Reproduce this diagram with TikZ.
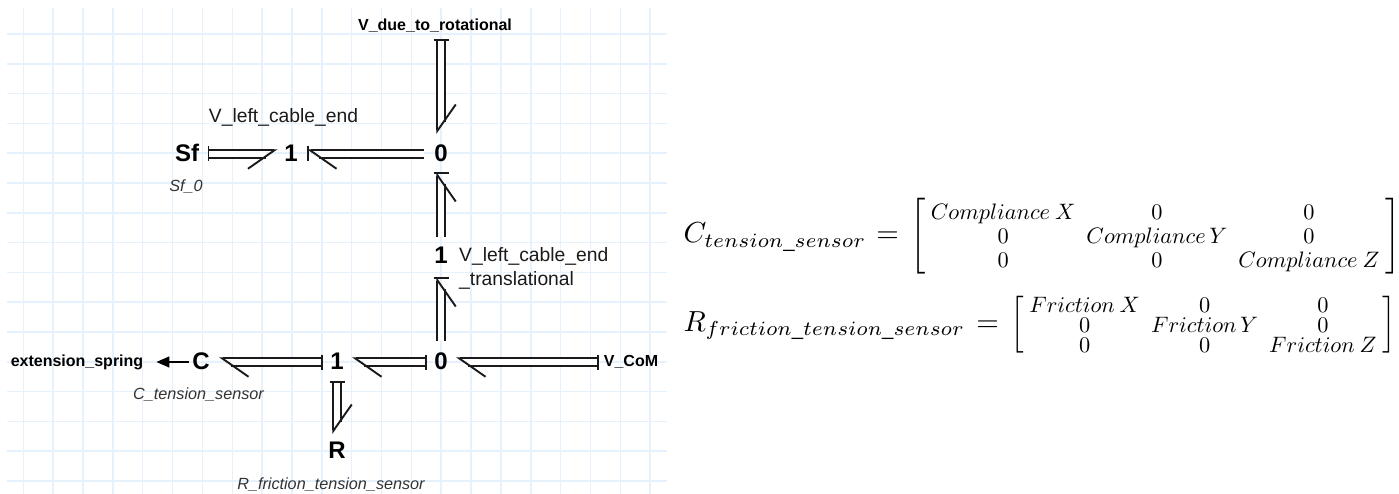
\documentclass[tikz,border=0pt]{standalone}
\usepackage{fontspec}
\usepackage{array}
\usepackage{amsmath}
\usepackage{graphicx}
\setmainfont{Liberation Sans}
\usetikzlibrary{arrows.meta}
\definecolor{gridblue}{HTML}{E6F1FE}
\definecolor{bondink}{HTML}{1A1A1A}
\definecolor{notegray}{HTML}{333333}
\tikzset{
  elem/.style  = {inner sep=0pt, font=\fontsize{24}{24}\selectfont\bfseries, text height=17pt, text depth=2pt},
  port/.style  = {inner sep=0pt, font=\fontsize{16}{16}\selectfont\bfseries},
  lab/.style   = {inner sep=0pt, font=\fontsize{19.3}{19.3}\selectfont, text=bondink},
  note/.style  = {inner sep=0pt, font=\fontsize{16.2}{16.2}\selectfont\itshape, text=notegray},
  eqn/.style   = {inner sep=0pt, anchor=west, scale=2.9},
  gridline/.style = {draw=gridblue, line width=1.5pt},
  pair/.style  = {draw=bondink, line width=1.6pt, double=white, double distance=5.9pt},
  rail/.style  = {draw=bondink, line width=1.6pt},
  tick/.style  = {draw=bondink, line width=1.7pt},
  barbl/.style = {-{Straight Barb[length=26.5pt, width=37pt, harpoon, line width=1.9pt]}},
  barbr/.style = {-{Straight Barb[length=26.5pt, width=37pt, harpoon, swap, line width=1.9pt]}},
  signal/.style = {-{Triangle[length=13pt, width=11pt]}, draw=black, line width=1.5pt},
}
% tail, head, gap at tail, gap at head, barb side
\newcommand{\bondh}[5]{
  \draw[pair, shorten <=#3pt, shorten >=#4pt+11.8pt] (#1.center) -- (#2.center);
  \draw[rail, #5, shorten <=#3pt, shorten >=#4pt] ([yshift=3.75pt]#1.center) -- ([yshift=3.75pt]#2.center);}
\newcommand{\bondv}[5]{
  \draw[pair, shorten <=#3pt, shorten >=#4pt+11.8pt] (#1.center) -- (#2.center);
  \draw[rail, #5, shorten <=#3pt, shorten >=#4pt] ([xshift=-3.75pt]#1.center) -- ([xshift=-3.75pt]#2.center);}
\newcommand{\tickh}[2]{\draw[tick] ([shift={(#2,-7.5)}]#1.center) -- ([shift={(#2,7.5)}]#1.center);}
\newcommand{\tickv}[2]{\draw[tick] ([shift={(-7.5,#2)}]#1.center) -- ([shift={(7.5,#2)}]#1.center);}
\newcommand{\ent}[1]{\smash{\scalebox{0.77}{$#1$}}}
\newcommand{\tallb}[1]{\vcenter{\hbox{\scalebox{1}[1.09]{$#1$}}}}

\begin{document}
\begin{tikzpicture}[x=1pt,y=-1pt]
\useasboundingbox (0,0) rectangle (1399,494);

% ------------------------------------------------------------------ paper
\foreach \k in {0,...,21}{\draw[gridline] (23.3+29.85*\k,8) -- (23.3+29.85*\k,494);}
\foreach \k in {0,...,15}{\draw[gridline] (7,34+29.8*\k) -- (667,34+29.8*\k);}

% ------------------------------------------------------------------ elements
\node[elem] (sf)   at (187,154) {Sf};
\node[elem] (jt)   at (291,154) {1};
\node[elem] (ztop) at (441,154) {0};
\node[elem] (jm)   at (441,256) {1};
\node[elem] (zlow) at (441,362) {0};
\node[elem] (jl)   at (337,362) {1};
\node[elem] (cap)  at (201,362) {C};
\node[elem] (res)  at (337,451) {R};

\node[port] (vrot)   at (435,26)  {V\_due\_to\_rotational};
\node[port] (vcom)   at (631,362) {V\_CoM};
\node[port] (spring) at (77,362)  {extension\_spring};
\coordinate (vrotp) at (vrot.center -| ztop.center);

\node[lab] (vleft) at (283.5,117) {V\_left\_cable\_end};
\node[lab, anchor=west] (vmid) at (459,256) {V\_left\_cable\_end};
\node[lab, anchor=west] (vtrans) at (459,280) {\_translational};

\node[note] (sfname) at (186,187) {Sf\_0};
\node[note] (cname)  at (198.5,395) {C\_tension\_sensor};
\node[note] (rname)  at (331,485) {R\_friction\_tension\_sensor};

% ------------------------------------------------------------------ bonds
\bondv{vrotp}{ztop}{14}{20}{barbl}   \tickv{vrotp}{14}
\bondh{ztop}{jt}{17}{16}{barbl}      \tickh{jt}{17}
\bondh{sf}{jt}{21.5}{13.5}{barbr}    \tickh{sf}{21.5}
\bondv{jm}{ztop}{19}{18}{barbr}      \tickv{ztop}{19}
\bondv{zlow}{jm}{21}{21}{barbr}      \tickv{jm}{22}
\bondh{zlow}{jl}{15}{15}{barbl}      \tickh{zlow}{-15}
\bondh{vcom}{zlow}{33}{15}{barbl}    \tickh{vcom}{-33}
\bondh{jl}{cap}{15}{18}{barbl}       \tickh{jl}{-15}
\bondv{jl}{res}{20}{17}{barbl}       \tickv{jl}{20}
\draw[signal, shorten <=3pt, shorten >=13pt] (cap) -- (spring);

% ------------------------------------------------------------------ matrices
\node[eqn] (ceq) at (683,236) {\renewcommand{\arraystretch}{0.683}\setlength{\arraycolsep}{1.9pt}%
  $C_{tension\_sensor} \mskip1.3mu = \mskip2mu \tallb{\bigg[}\raisebox{-1pt}{$\begin{array}{ccc}
    \ent{Compliance\:X} & \ent{0} & \ent{0}\\ \ent{0} & \ent{Compliance\,Y} & \ent{0}\\ \ent{0} & \ent{0} & \ent{Compliance\:Z}
  \end{array}$}\tallb{\bigg]}$};
\node[eqn] (req) at (683,327) {\renewcommand{\arraystretch}{0.566}\setlength{\arraycolsep}{1.9pt}%
  $R_{friction\_tension\_sensor} \mskip2mu = \mskip2mu \tallb{\Big[}\raisebox{-1.5pt}{$\begin{array}{ccc}
    \ent{Friction\:X} & \ent{0} & \ent{0}\\ \ent{0} & \ent{Friction\,Y} & \ent{0}\\ \ent{0} & \ent{0} & \ent{Friction\:Z}
  \end{array}$}\tallb{\Big]}$};
\end{tikzpicture}
\end{document}
